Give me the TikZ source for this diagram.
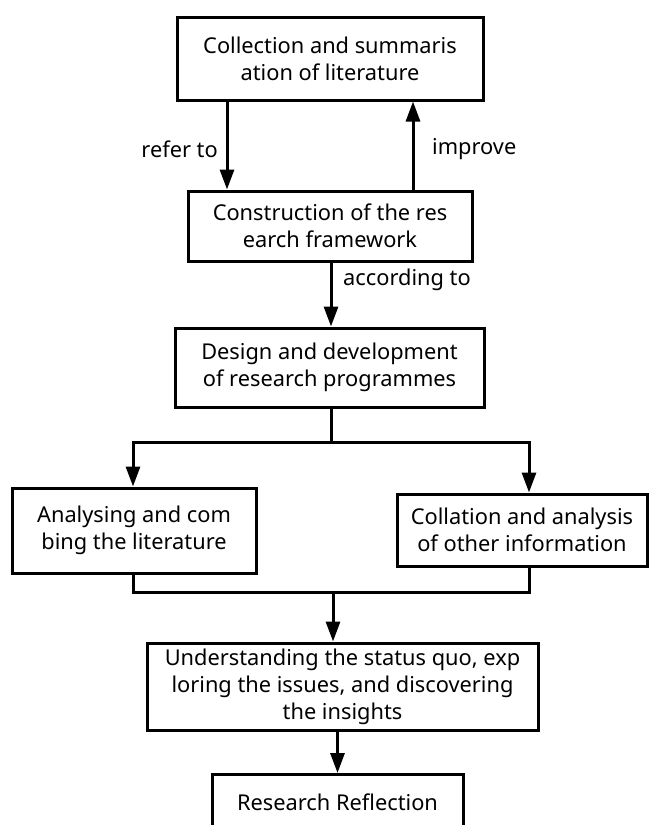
\documentclass[tikz,border=0pt]{standalone}
\usepackage{fontspec}
\setmainfont{Noto Sans}
\usetikzlibrary{arrows.meta,calc}
\begin{document}
\begin{tikzpicture}[x=1pt,y=-1pt,
  box/.style={draw,line width=3pt,align=center,inner sep=0pt,
    font=\fontsize{21.8}{27}\selectfont},
  lbl/.style={font=\fontsize{21.8}{27}\selectfont,inner sep=0pt},
  conn/.style={line width=3pt},
  arr/.style={conn,-{Triangle[length=20pt,width=14pt]}}]
\useasboundingbox (0,0) rectangle (649,825);
\clip (0,0) rectangle (649,825);
\node[box,minimum width=306pt,minimum height=83pt] (b1) at (330,58.5) {Collection and summaris\\ation of literature};
\node[box,minimum width=284pt,minimum height=70pt] (b2) at (330,226) {Construction of the res\\earch framework};
\node[box,minimum width=309pt,minimum height=79pt] (b3) at (329.5,367.5) {Design and development\\of research programmes};
\node[box,minimum width=244pt,minimum height=85pt] (b4) at (134,530.5) {Analysing and com\\bing the literature};
\node[box,minimum width=250pt,minimum height=72pt] (b5) at (522,530) {Collation and analysis\\of other information};
\node[box,minimum width=391pt,minimum height=87pt] (b6) at (342.5,686.5) {Understanding the status quo, exp\\loring the issues, and discovering\\the insights};
\node[box,minimum width=251pt,minimum height=70pt,anchor=north] (b7) at (337.5,773) {};
\node[lbl] (b7t) at (337.5,802) {Research Reflection};
% labels
\node[lbl,anchor=east] (l1) at (218,149) {refer to};
\node[lbl,anchor=west] (l2) at (432,149) {improve};
\node[lbl,anchor=west] (l3) at (343,280) {according to};
% connectors
\coordinate (rx) at (227,0);
\coordinate (ix) at (413,0);
\coordinate (mx) at (331,0);
\coordinate (lx) at (133,0);
\coordinate (qx) at (529,0);
\coordinate (split) at (331,442);
\coordinate (merge) at (333,592);
\draw[arr] (b1.south -| rx) -- (b2.north -| rx);
\draw[arr] (b2.north -| ix) -- (b1.south -| ix);
\draw[arr] (b2.south -| mx) -- (b3.north -| mx);
\draw[conn] (b3.south -| mx) -- (split);
\draw[arr] (split) -| (b4.north -| lx);
\draw[arr] (split) -| (b5.north -| qx);
\draw[conn] (b4.south -| lx) |- (merge) -| (b5.south -| qx);
\draw[arr] (merge) -- (b6.north -| merge);
\draw[arr] (b6.south -| b7.north) -- (b7.north);
\end{tikzpicture}
\end{document}
